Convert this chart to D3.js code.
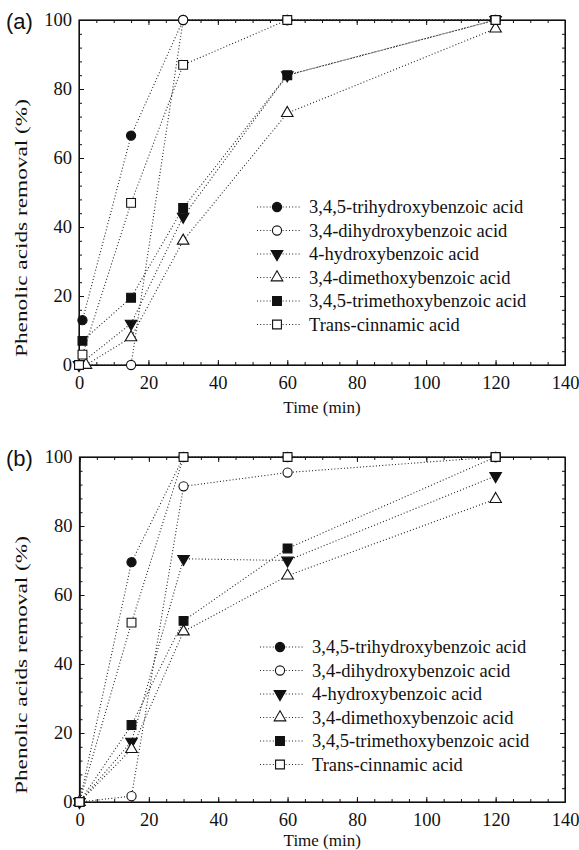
<!DOCTYPE html>
<html>
<head>
<meta charset="utf-8">
<script src="https://cdn.jsdelivr.net/npm/d3@7"></script>
<style>
  body { margin: 0; background: #fff; }
  svg { display: block; }
  text { font-family: "Liberation Serif", "Times New Roman", serif; fill: #111; }
</style>
</head>
<body>
<svg id="chart" width="579" height="850"></svg>
<script>
// legend names, same order for both panels
var seriesNames = [
  "3,4,5-trihydroxybenzoic acid",
  "3,4-dihydroxybenzoic acid",
  "4-hydroxybenzoic acid",
  "3,4-dimethoxybenzoic acid",
  "3,4,5-trimethoxybenzoic acid",
  "Trans-cinnamic acid"
];
var seriesSymbols = ["circle", "circle", "triangleDown", "triangle", "square", "square"];
var seriesFilled  = [true, false, true, false, true, false];

// panel (a): [time (min), removal (%)]
var aTrihydroxy  = [[1, 13], [15, 66.5], [30, 100], [60, 100], [120, 100]];
var aDihydroxy   = [[0, 0], [15, 0], [30, 100], [60, 100], [120, 100]];
var aHydroxy     = [[0, 0], [15, 12], [30, 43], [60, 84], [120, 100]];
var aDimethoxy   = [[2, 0], [15, 8], [30, 36], [60, 73], [120, 97.5]];
var aTrimethoxy  = [[1, 7], [15, 19.5], [30, 45.5], [60, 84], [120, 100]];
var aCinnamic    = [[0, 0], [1, 3], [15, 47], [30, 87], [60, 100], [120, 100]];

// panel (b)
var bTrihydroxy  = [[0, 0], [15, 69.5], [30, 100], [60, 100], [120, 100]];
var bDihydroxy   = [[0, 0], [15, 1.7], [30, 91.5], [60, 95.5], [120, 100]];
var bHydroxy     = [[0, 0], [15, 17.5], [30, 70.5], [60, 70], [120, 94.5]];
var bDimethoxy   = [[0, 0], [15, 15.3], [30, 49.4], [60, 65.6], [120, 87.8]];
var bTrimethoxy  = [[0, 0], [15, 22.3], [30, 52.5], [60, 73.5], [120, 100]];
var bCinnamic    = [[0, 0], [15, 52], [30, 100], [60, 100], [120, 100]];

var xMajor = [0, 20, 40, 60, 80, 100, 120, 140];
var yMajor = [0, 20, 40, 60, 80, 100];

var svg = d3.select("#chart");

var TICK = 5, MINOR = 3;
var FONT = 18.5;

function symbolPath(kind) {
  var s;
  if (kind == "circle") s = d3.symbol(d3.symbolCircle, 66);
  else if (kind == "square") s = d3.symbol(d3.symbolSquare, 78);
  else s = d3.symbol(d3.symbolTriangle, 58);
  return s();
}

function drawMarker(g, kind, filled, x, y) {
  g.append("path")
    .attr("d", symbolPath(kind))
    .attr("transform", "translate(" + x + "," + y + ")" + (kind == "triangleDown" ? " rotate(180)" : ""))
    .attr("fill", filled ? "#111" : "#fff")
    .attr("stroke", "#111")
    .attr("stroke-width", 1.1);
}

function panel(opt) {
  var x = d3.scaleLinear().domain([0, 140]).range([opt.left, opt.right]);
  var y = d3.scaleLinear().domain([0, 100]).range([opt.bottom, opt.top]);
  var g = svg.append("g");

  // minor ticks
  var xMinor = d3.range(0, 141, 5), yMinor = d3.range(0, 101, 4);
  g.append("g").attr("transform", "translate(0," + opt.bottom + ")")
    .call(d3.axisBottom(x).tickValues(xMinor).tickSize(-MINOR).tickSizeOuter(0).tickFormat(""));
  g.append("g").attr("transform", "translate(0," + opt.top + ")")
    .call(d3.axisTop(x).tickValues(xMinor).tickSize(-MINOR).tickSizeOuter(0).tickFormat(""));
  g.append("g").attr("transform", "translate(" + opt.left + ",0)")
    .call(d3.axisLeft(y).tickValues(yMinor).tickSize(-MINOR).tickSizeOuter(0).tickFormat(""));
  g.append("g").attr("transform", "translate(" + opt.right + ",0)")
    .call(d3.axisRight(y).tickValues(yMinor).tickSize(-MINOR).tickSizeOuter(0).tickFormat(""));

  // major ticks + labels
  g.append("g").attr("transform", "translate(0," + opt.bottom + ")")
    .call(d3.axisBottom(x).tickValues(xMajor).tickSize(-TICK).tickSizeOuter(0).tickPadding(11));
  g.append("g").attr("transform", "translate(0," + opt.top + ")")
    .call(d3.axisTop(x).tickValues(xMajor).tickSize(-TICK).tickSizeOuter(0).tickFormat(""));
  g.append("g").attr("transform", "translate(" + opt.left + ",0)")
    .call(d3.axisLeft(y).tickValues(yMajor).tickSize(-TICK).tickSizeOuter(0).tickPadding(7));
  g.append("g").attr("transform", "translate(" + opt.right + ",0)")
    .call(d3.axisRight(y).tickValues(yMajor).tickSize(-TICK).tickSizeOuter(0).tickFormat(""));

  g.selectAll(".tick line").attr("stroke", "#111");
  g.selectAll(".domain").attr("stroke", "#111");
  g.selectAll(".tick text")
    .style("font-family", '"Liberation Serif", "Times New Roman", serif')
    .style("font-size", FONT + "px")
    .attr("fill", "#111");

  g.append("rect")
    .attr("x", opt.left).attr("y", opt.top)
    .attr("width", opt.right - opt.left).attr("height", opt.bottom - opt.top)
    .attr("fill", "none").attr("stroke", "#111").attr("stroke-width", 1.2);

  // axis titles
  g.append("text")
    .attr("x", (opt.left + opt.right) / 2).attr("y", opt.bottom + opt.xlabelGap)
    .attr("text-anchor", "middle")
    .style("font-size", "17px")
    .text("Time (min)");
  g.append("text")
    .attr("transform", "translate(27," + opt.ylabelMid + ") rotate(-90)")
    .attr("text-anchor", "middle")
    .attr("textLength", 258).attr("lengthAdjust", "spacingAndGlyphs")
    .style("font-size", "17px")
    .text("Phenolic acids removal (%)");
  g.append("text")
    .attr("x", 6).attr("y", opt.top + 9)
    .style("font-family", '"Liberation Sans", Arial, sans-serif')
    .style("font-size", "22px")
    .text(opt.tag);

  // lines
  var line = d3.line().x(function(d) { return x(d[0]); }).y(function(d) { return y(d[1]); });
  g.append("g").selectAll("path")
    .data(opt.series)
    .enter().append("path")
    .attr("d", line)
    .attr("fill", "none")
    .attr("stroke", "#222")
    .attr("stroke-width", 1.1)
    .attr("stroke-dasharray", "1 2.2");

  // markers
  var mg = g.append("g");
  opt.series.forEach(function(s, i) {
    s.forEach(function(d) {
      drawMarker(mg, seriesSymbols[i], seriesFilled[i], x(d[0]), y(d[1]));
    });
  });

  // legend
  var lg = g.append("g");
  seriesNames.forEach(function(name, i) {
    var ly = opt.legY + i * 23.5;
    lg.append("line")
      .attr("x1", opt.legX).attr("x2", opt.legX + 44)
      .attr("y1", ly).attr("y2", ly)
      .attr("stroke", "#222").attr("stroke-width", 1.1)
      .attr("stroke-dasharray", "1 2.2");
    drawMarker(lg, seriesSymbols[i], seriesFilled[i], opt.legX + 20, ly);
    lg.append("text")
      .attr("x", opt.legX + 52).attr("y", ly + 6)
      .style("font-size", FONT + "px")
      .text(name);
  });
}

panel({
  tag: "(a)", left: 79, right: 565, top: 20, bottom: 365, ylabelMid: 228, xlabelGap: 48,
  legX: 257, legY: 207,
  series: [aTrihydroxy, aDihydroxy, aHydroxy, aDimethoxy, aTrimethoxy, aCinnamic]
});

panel({
  tag: "(b)", left: 79.5, right: 565, top: 457, bottom: 802, ylabelMid: 665, xlabelGap: 44,
  legX: 260, legY: 647,
  series: [bTrihydroxy, bDihydroxy, bHydroxy, bDimethoxy, bTrimethoxy, bCinnamic]
});
</script>
</body>
</html>
